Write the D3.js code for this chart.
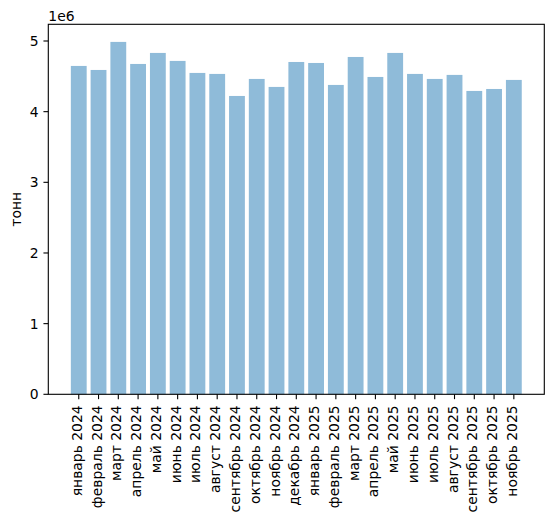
<!DOCTYPE html>
<html>
<head>
<meta charset="utf-8">
<script src="https://cdn.jsdelivr.net/npm/d3@7"></script>
<style>
	body { margin: 0; background: #fff; }
	text { font-family: "DejaVu Sans", sans-serif; fill: #000; }
</style>
</head>
<body>
<script>
// months along the x axis
var months = ["январь 2024", "февраль 2024", "март 2024", "апрель 2024", "май 2024", "июнь 2024",
	"июль 2024", "август 2024", "сентябрь 2024", "октябрь 2024", "ноябрь 2024", "декабрь 2024",
	"январь 2025", "февраль 2025", "март 2025", "апрель 2025", "май 2025", "июнь 2025",
	"июль 2025", "август 2025", "сентябрь 2025", "октябрь 2025", "ноябрь 2025"];

// tonnes
var tonnes = [4647000, 4590000, 4987000, 4675000, 4831000, 4718000,
	4548000, 4534000, 4222000, 4463000, 4350000, 4703000,
	4689000, 4378000, 4774000, 4491000, 4831000, 4534000,
	4463000, 4520000, 4293000, 4321000, 4449000];

var yTicks = [0, 1, 2, 3, 4, 5];

var w = 554;
var h = 521;
// plot area (don't call it "top", window.top is read-only)
var pL = 48.3, pR = 544.3, pT = 24.3, pB = 394.3;
var fs = 13.9;
var tick = 4.86;

var svg = d3.select("body")
	.append("svg")
	.attr("width", w)
	.attr("height", h);

var x = d3.scaleBand()
	.domain(months)
	.range([pL, pR])
	.paddingInner(0.2)
	.paddingOuter(1.14);

var yMax = d3.max(tonnes) * 1.05;
var y = d3.scaleLinear()
	.domain([0, yMax])
	.range([pB, pT]);

svg.selectAll("rect.bar")
	.data(tonnes)
	.enter()
	.append("rect")
	.attr("class", "bar")
	.attr("x", function(d, i) { return x(months[i]); })
	.attr("y", function(d) { return y(d); })
	.attr("width", x.bandwidth())
	.attr("height", function(d) { return pB - y(d); })
	.attr("fill", "#1f77b4")
	.attr("fill-opacity", 0.5);

// y axis ticks
var yt = svg.append("g");
yTicks.forEach(function(t) {
	var py = y(t * 1e6);
	yt.append("line")
		.attr("x1", pL - tick).attr("x2", pL)
		.attr("y1", py).attr("y2", py)
		.attr("stroke", "#000").attr("stroke-width", 1.1);
	yt.append("text")
		.attr("x", pL - tick - 4.9)
		.attr("y", py)
		.attr("dy", "0.36em")
		.attr("text-anchor", "end")
		.style("font-size", fs + "px")
		.text(t);
});

// x axis ticks, rotated labels
var xt = svg.append("g");
months.forEach(function(m) {
	var px = x(m) + x.bandwidth() / 2;
	xt.append("line")
		.attr("x1", px).attr("x2", px)
		.attr("y1", pB).attr("y2", pB + tick)
		.attr("stroke", "#000").attr("stroke-width", 1.1);
	xt.append("text")
		.attr("transform", "translate(" + px + "," + (pB + tick + 6.2) + ") rotate(-90)")
		.attr("dy", "0.22em")
		.attr("text-anchor", "end")
		.style("font-size", fs + "px")
		.text(m);
});

// frame
svg.append("rect")
	.attr("x", pL).attr("y", pT)
	.attr("width", pR - pL).attr("height", pB - pT)
	.attr("fill", "none")
	.attr("stroke", "#000")
	.attr("stroke-width", 1.1);

// offset text + y label
svg.append("text")
	.attr("x", pL)
	.attr("y", 20.5)
	.style("font-size", fs + "px")
	.text("1e6");

svg.append("text")
	.attr("transform", "translate(20.7," + ((pT + pB) / 2) + ") rotate(-90)")
	.attr("text-anchor", "middle")
	.style("font-size", fs + "px")
	.text("тонн");
</script>
</body>
</html>
